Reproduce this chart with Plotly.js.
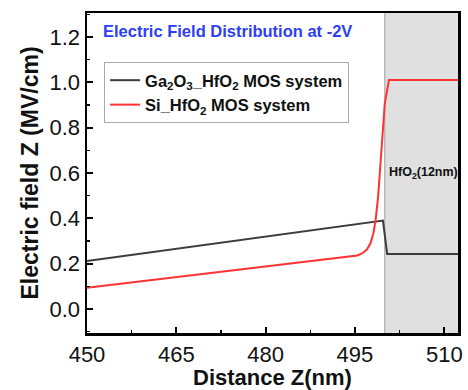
<!DOCTYPE html>
<html>
<head>
<meta charset="utf-8">
<script src="https://cdn.plot.ly/plotly-3.0.1.min.js"></script>
<style>html,body{margin:0;padding:0;background:#fff;}#chart{width:468px;height:390px;}</style>
</head>
<body>
<div id="chart"></div>
<script>
// Ga2O3_HfO2 MOS system
const gaX = [450, 460, 470, 480, 490, 499.7, 500.4, 505, 512.3];
const gaY = [0.212, 0.248, 0.284, 0.320, 0.355, 0.390, 0.243, 0.243, 0.243];
// Si_HfO2 MOS system
const siX = [450, 460, 470, 480, 490, 495.4, 496.2, 497.0, 497.6, 498.1, 498.5, 498.9, 499.5, 500.0, 500.7, 505, 512.3];
const siY = [0.094, 0.125, 0.156, 0.187, 0.218, 0.236, 0.245, 0.262, 0.290, 0.334, 0.400, 0.500, 0.720, 0.905, 1.010, 1.010, 1.010];
const seriesNames = ['Ga<sub>2</sub>O<sub>3</sub>_HfO<sub>2</sub> MOS system', 'Si_HfO<sub>2</sub> MOS system'];
const oxideStart = 500;
const xTicks = [450, 465, 480, 495, 510];
const yTicks = [0.0, 0.2, 0.4, 0.6, 0.8, 1.0, 1.2];

const F = 'Arial, "Liberation Sans", sans-serif';

const traces = [
  {x: gaX, y: gaY, mode: 'lines', name: seriesNames[0], line: {color: '#3c3c3c', width: 2}},
  {x: siX, y: siY, mode: 'lines', name: seriesNames[1], line: {color: '#ff3333', width: 2}}
];

const layout = {
  width: 468, height: 390,
  margin: {l: 87, r: 10, t: 13, b: 57},
  paper_bgcolor: '#fff', plot_bgcolor: '#fff',
  showlegend: true,
  legend: {
    x: 0.046, y: 0.847, xanchor: 'left', yanchor: 'top',
    bgcolor: '#fff', bordercolor: '#aaaaaa', borderwidth: 1,
    font: {family: F, size: 16.5, color: '#111', weight: 'bold'},
    tracegroupgap: 0, itemwidth: 30
  },
  xaxis: {
    range: [450, 512.3], tickvals: xTicks, ticktext: xTicks.map(String),
    showgrid: false, zeroline: false,
    showline: true, mirror: true, linecolor: '#000', linewidth: 2.5,
    ticks: 'inside', ticklen: 6, tickwidth: 2, tickcolor: '#000',
    minor: {ticks: 'inside', ticklen: 3, tickwidth: 1.5, tickcolor: '#000', dtick: 7.5, tick0: 450, showgrid: false},
    tickfont: {family: F, size: 22, color: '#111'},
    title: {text: 'Distance Z(nm)', font: {family: F, size: 22, color: '#111', weight: 'bold'}, standoff: 6}
  },
  yaxis: {
    range: [-0.106, 1.306], tickvals: yTicks, ticktext: yTicks.map(v => v.toFixed(1)),
    showgrid: false, zeroline: false,
    showline: true, mirror: true, linecolor: '#000', linewidth: 2.5,
    ticks: 'inside', ticklen: 6, tickwidth: 2, tickcolor: '#000',
    minor: {ticks: 'inside', ticklen: 3, tickwidth: 1.5, tickcolor: '#000', dtick: 0.1, tick0: 0, showgrid: false},
    tickfont: {family: F, size: 22, color: '#111'},
    title: {text: 'Electric field Z (MV/cm)', font: {family: F, size: 23, color: '#111', weight: 'bold'}, standoff: 5}
  },
  shapes: [
    {type: 'rect', xref: 'x', yref: 'paper', x0: oxideStart, x1: 512.3, y0: 0, y1: 1,
     fillcolor: '#e0e0e0', line: {width: 0}, layer: 'below'},
    {type: 'line', xref: 'x', yref: 'paper', x0: oxideStart, x1: oxideStart, y0: 0, y1: 1,
     line: {color: '#b8b8b8', width: 1.5}, layer: 'below'}
  ],
  annotations: [
    {text: 'Electric Field Distribution at -2V', xref: 'paper', yref: 'paper',
     x: 0.038, y: 0.945, xanchor: 'left', yanchor: 'middle', showarrow: false,
     font: {family: F, size: 16.5, color: '#2d3ff5', weight: 'bold'}},
    {text: 'HfO<sub>2</sub>(12nm)', xref: 'x', yref: 'paper',
     x: oxideStart + 0.3, y: 0.5, xanchor: 'left', yanchor: 'middle', showarrow: false,
     font: {family: F, size: 12.5, color: '#111', weight: 'bold'}}
  ]
};

Plotly.newPlot('chart', traces, layout, {displayModeBar: false, staticPlot: true});
</script>
</body>
</html>
